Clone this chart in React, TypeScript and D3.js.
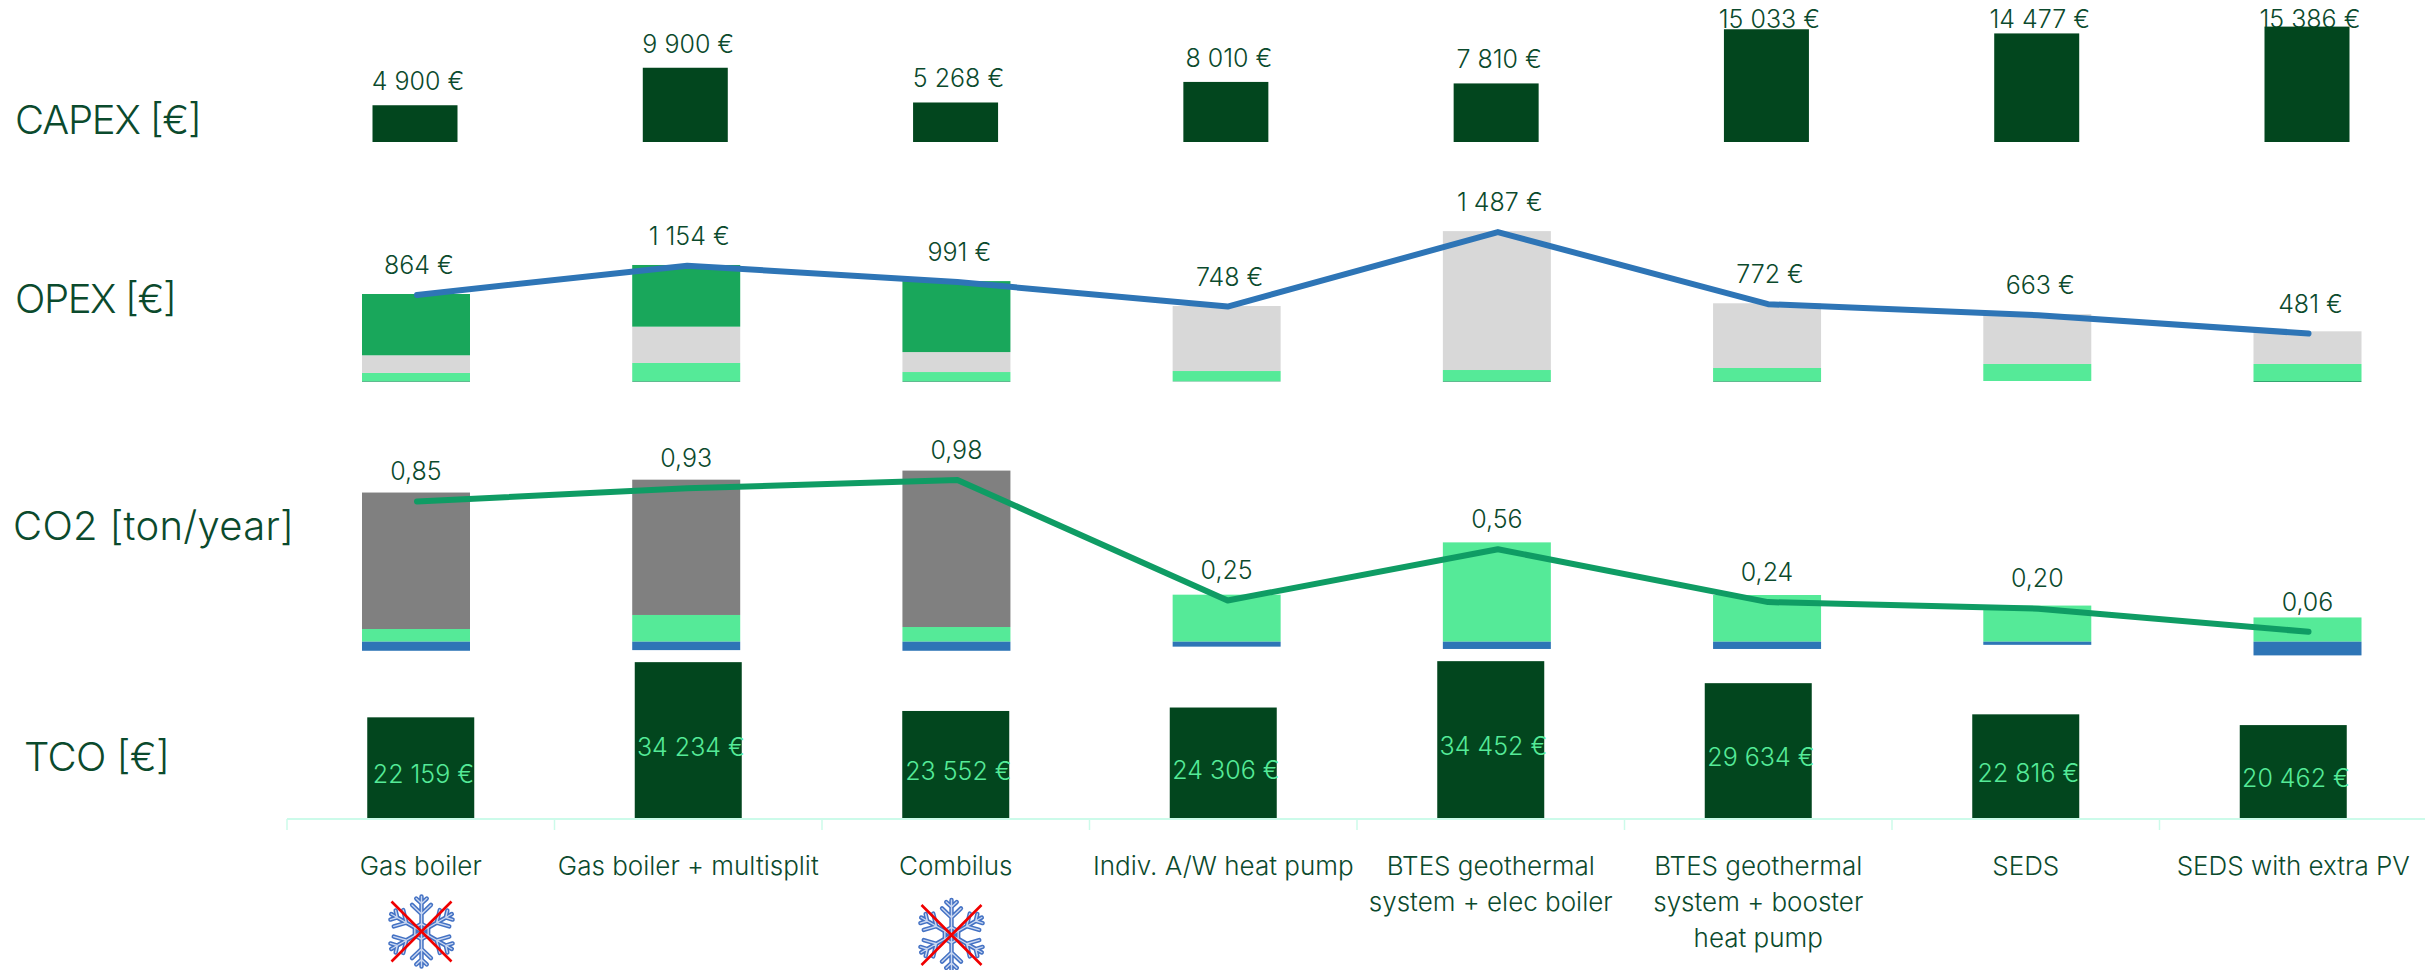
import React from "react";
import * as d3 from "d3";

const categories = [
  ["Gas boiler"],
  ["Gas boiler + multisplit"],
  ["Combilus"],
  ["Indiv. A/W heat pump"],
  ["BTES geothermal", "system + elec boiler"],
  ["BTES geothermal", "system + booster", "heat pump"],
  ["SEDS"],
  ["SEDS with extra PV"],
];
const capex = [4900, 9900, 5268, 8010, 7810, 15033, 14477, 15386];
const opexTotal = [864, 1154, 991, 748, 1487, 772, 663, 481];
const opexGreen = [608, 612, 704, 0, 0, 0, 0, 0];
const opexGray = [175, 360, 198, 645, 1378, 642, 494, 324];
const opexLight = [80, 179, 89, 99, 109, 129, 169, 169];
const opexNeg = [-7, -7, -7, -4, -7, -7, 0, -9];
const co2Total = [0.85, 0.93, 0.98, 0.25, 0.56, 0.24, 0.2, 0.06];
const co2Gray = [0.827, 0.82, 0.948, 0, 0, 0, 0, 0];
const co2Light = [0.077, 0.162, 0.089, 0.285, 0.602, 0.283, 0.219, 0.147];
const co2Blue = [-0.055, -0.051, -0.055, -0.03, -0.044, -0.044, -0.019, -0.083];
const tco = [22159, 34234, 23552, 24306, 34452, 29634, 22816, 20462];
const noCooling = [true, false, true, false, false, false, false, false];

const FONT = "Inter, 'Noto Sans', sans-serif";
const TEXT = "#0b4a2d";
const DARK = "#02461e";
const LIGHT = "#55ea98";
const MID = "#19a75b";
const GRAY = "#d8d8d8";
const DGRAY = "#808080";
const BLUE = "#2e75b6";
const LINEGREEN = "#0f9c64";
const AXIS = "#ccfbea";

const fmtEur = (v: number) => d3.format(",")(v).replace(/,/g, " ") + " €";
const fmtCo2 = (v: number) => v.toFixed(2).replace(".", ",");

const idx = d3.range(categories.length);
// Each row of the source is its own slightly offset plot.
const xCapex = d3.scaleLinear().domain([0, 7]).range([415, 2307]);
const xOpex = d3.scaleLinear().domain([0, 7]).range([416, 2307.5]);
const xBand = d3.scaleBand<number>().domain(idx).range([287, 2427]);

const yCapex = d3.scaleLinear().domain([0, 20000]).range([142, -8]);
const yOpex = d3.scaleLinear().domain([0, 1500]).range([381, 229.8]);
const yCo2 = d3.scaleLinear().domain([0, 1]).range([641.7, 476.7]);
const yTco = d3.scaleLinear().domain([0, 40000]).range([818.6, 635.8]);

const capexW = 85;
const opexW = 108;
const tcoW = xBand.bandwidth() * 0.4;

function Stack({ x, y, w, parts }: { x: number; y: any; w: number; parts: [number, string][] }) {
  let pos = 0;
  let neg = 0;
  return (
    <>
      {parts.map(([v, c], i) => {
        if (!v) return null;
        const a = v > 0 ? pos : neg;
        const b = a + v;
        if (v > 0) pos = b;
        else neg = b;
        const y0 = y(Math.max(a, b));
        const y1 = y(Math.min(a, b));
        return <rect key={i} x={x - w / 2} y={y0} width={w} height={y1 - y0} fill={c} />;
      })}
    </>
  );
}

function Snowflake({ cx, cy, r }: { cx: number; cy: number; r: number }) {
  const arm = `M0 0V${-r} M0 ${-r * 0.8}L${-r * 0.15} ${-r * 0.94} M0 ${-r * 0.8}L${r * 0.15} ${-r * 0.94} M0 ${-r * 0.5}L${-r * 0.27} ${-r * 0.76} M0 ${-r * 0.5}L${r * 0.27} ${-r * 0.76}`;
  const ring = d3.range(6).map((i) => {
    const a = (i * Math.PI) / 3 - Math.PI / 2;
    return [Math.cos(a) * r * 0.22, Math.sin(a) * r * 0.22] as [number, number];
  });
  const ringPath = d3.line().curve(d3.curveLinearClosed)(ring) as string;
  const d = 30;
  return (
    <g transform={`translate(${cx},${cy})`} fill="none" strokeLinecap="round">
      {[
        ["#4472c4", 4.4],
        ["#c9d7f1", 1.4],
      ].map(([c, w], k) => (
        <g key={k} stroke={c as string} strokeWidth={w as number}>
          {d3.range(6).map((i) => (
            <path key={i} d={arm} transform={`rotate(${i * 60})`} />
          ))}
          <path d={ringPath} />
        </g>
      ))}
      <path d={`M${-d} ${-d}L${d} ${d}M${d} ${-d}L${-d} ${d}`} stroke="#f00000" strokeWidth={2.6} strokeLinecap="butt" />
    </g>
  );
}

function Label({ x, y, children, fill = TEXT, size = 25 }: any) {
  return (
    <text x={x} y={y} fill={fill} fontSize={size} fontFamily={FONT} fontWeight={300} textAnchor="middle" dominantBaseline="central">
      {children}
    </text>
  );
}

function Title({ x, y, len, children }: any) {
  return (
    <text x={x} y={y} fill={TEXT} fontSize={40} fontFamily={FONT} fontWeight={300} dominantBaseline="central" textLength={len} lengthAdjust="spacing">
      {children}
    </text>
  );
}

export default function App() {
  const opexLine = d3.line<number>().x((i) => xOpex(i) + 1).y((i) => yOpex(opexTotal[i]) + 1)(idx) as string;
  const co2Line = d3.line<number>().x((i) => xOpex(i) + 1).y((i) => yCo2(co2Total[i]))(idx) as string;
  return (
    <svg width={2425} height={970} style={{ position: "absolute", left: 0, top: 0 }}>
      <Title x={15} y={119} len={187}>CAPEX [€]</Title>
      <Title x={15} y={298} len={162}>OPEX [€]</Title>
      <Title x={13} y={525} len={281}>CO2 [ton/year]</Title>
      <Title x={24} y={756} len={146}>TCO [€]</Title>

      {idx.map((i) => (
        <Label key={i} x={xCapex(i) + 3} y={Math.max(19.3, yCapex(capex[i]) - 24)}>{fmtEur(capex[i])}</Label>
      ))}
      {idx.map((i) => (
        <rect key={i} x={xCapex(i) - capexW / 2} y={yCapex(capex[i])} width={capexW} height={yCapex(0) - yCapex(capex[i])} fill={DARK} />
      ))}

      {idx.map((i) => (
        <Stack key={i} x={xOpex(i)} y={yOpex} w={opexW} parts={[[opexLight[i], LIGHT], [opexGray[i], GRAY], [opexGreen[i], MID], [opexNeg[i], "#1f9d63"]]} />
      ))}
      <path d={opexLine} fill="none" stroke={BLUE} strokeWidth={6} strokeLinejoin="round" strokeLinecap="round" />
      {idx.map((i) => (
        <Label key={i} x={xOpex(i) + 3} y={yOpex(opexTotal[i]) - 29}>{fmtEur(opexTotal[i])}</Label>
      ))}

      {idx.map((i) => (
        <Stack key={i} x={xOpex(i)} y={yCo2} w={opexW} parts={[[co2Light[i], LIGHT], [co2Gray[i], DGRAY], [co2Blue[i], BLUE]]} />
      ))}
      <path d={co2Line} fill="none" stroke={LINEGREEN} strokeWidth={6} strokeLinejoin="round" strokeLinecap="round" />
      {idx.map((i) => (
        <Label key={i} x={xOpex(i)} y={yCo2(co2Total[i]) - 30.3}>{fmtCo2(co2Total[i])}</Label>
      ))}

      {idx.map((i) => {
        const c = (xBand(i) as number) + xBand.bandwidth() / 2;
        const top = yTco(tco[i]);
        return (
          <g key={i}>
            <rect x={c - tcoW / 2} y={top} width={tcoW} height={yTco(0) - top} fill={DARK} />
            <Label x={c + 2.7} y={(top + yTco(0)) / 2 + 6.5} fill={LIGHT}>{fmtEur(tco[i])}</Label>
          </g>
        );
      })}

      <line x1={287} x2={2425} y1={819} y2={819} stroke={AXIS} strokeWidth={2} />
      {[...idx, 8].map((i) => {
        const x = 287 + i * xBand.step();
        return <line key={i} x1={x} x2={x} y1={819} y2={830} stroke={AXIS} strokeWidth={1.5} />;
      })}
      {idx.map((i) => {
        const c = (xBand(i) as number) + xBand.bandwidth() / 2;
        return categories[i].map((t, k) => (
          <Label key={`${i}-${k}`} x={c} y={865 + k * 36.3} size={26}>{t}</Label>
        ));
      })}
      {idx.filter((i) => noCooling[i]).map((i) => (
        <Snowflake key={i} cx={i === 0 ? 421.5 : 951.5} cy={i === 0 ? 931.5 : 935} r={35} />
      ))}
    </svg>
  );
}
